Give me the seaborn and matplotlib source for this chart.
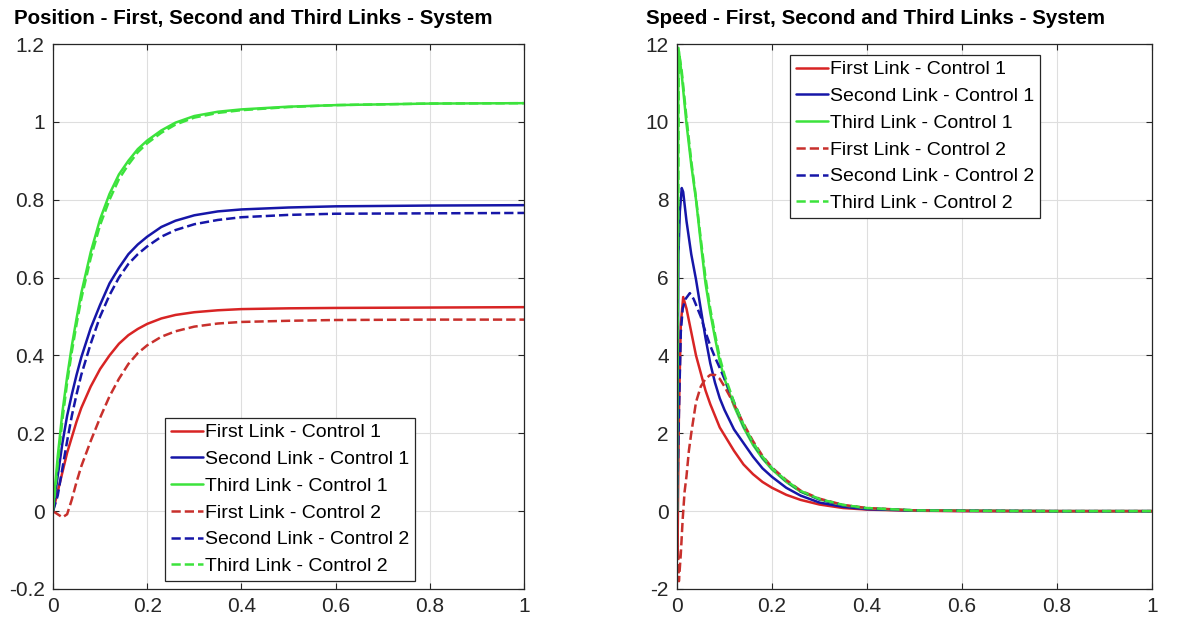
import matplotlib
matplotlib.use("Agg")
import matplotlib.pyplot as plt
from matplotlib.ticker import FixedLocator, FixedFormatter
import seaborn as sns
import pandas as pd

# ---------------------------------------------------------------- data
# Joint positions (rad) of the three links, controllers 1 and 2
t_pos = [0, 0.01, 0.02, 0.03, 0.04, 0.05, 0.06, 0.08, 0.10, 0.12, 0.14, 0.16,
         0.18, 0.20, 0.23, 0.26, 0.30, 0.35, 0.40, 0.50, 0.60, 0.80, 1.00]
pos_first_c1 = [0, 0.05, 0.10, 0.15, 0.19, 0.23, 0.265, 0.32, 0.365, 0.40, 0.43,
                0.452, 0.468, 0.481, 0.495, 0.504, 0.511, 0.516, 0.519, 0.521,
                0.522, 0.523, 0.524]
pos_second_c1 = [0, 0.09, 0.175, 0.245, 0.30, 0.35, 0.395, 0.47, 0.53, 0.585,
                 0.625, 0.66, 0.685, 0.705, 0.73, 0.746, 0.76, 0.77, 0.775,
                 0.78, 0.783, 0.785, 0.786]
pos_third_c1 = [0, 0.14, 0.255, 0.345, 0.425, 0.495, 0.56, 0.665, 0.75, 0.815,
                0.865, 0.90, 0.93, 0.952, 0.978, 0.998, 1.015, 1.026, 1.032,
                1.039, 1.043, 1.047, 1.048]
pos_first_c2 = [0, -0.008, -0.016, -0.008, 0.03, 0.075, 0.115, 0.18, 0.24,
                0.295, 0.34, 0.378, 0.406, 0.426, 0.448, 0.462, 0.474, 0.482,
                0.486, 0.489, 0.491, 0.492, 0.492]
pos_second_c2 = [0, 0.04, 0.11, 0.18, 0.245, 0.30, 0.35, 0.43, 0.50, 0.555,
                 0.60, 0.635, 0.66, 0.68, 0.705, 0.722, 0.737, 0.748, 0.755,
                 0.761, 0.764, 0.765, 0.766]
pos_third_c2 = [0, 0.12, 0.235, 0.33, 0.41, 0.48, 0.545, 0.65, 0.735, 0.80,
                0.853, 0.89, 0.922, 0.945, 0.972, 0.993, 1.011, 1.023, 1.03,
                1.038, 1.043, 1.047, 1.048]

# Joint speeds (rad/s)
t_tail = [0.05, 0.06, 0.07, 0.08, 0.09, 0.10, 0.12, 0.14, 0.16, 0.18, 0.20,
          0.23, 0.26, 0.30, 0.35, 0.40, 0.50, 0.60, 0.80, 1.00]

t_spd_first_c1 = [0, 0.001, 0.004, 0.008, 0.013, 0.02, 0.03, 0.04] + t_tail
spd_first_c1 = [0, -1.2, 2.5, 4.8, 5.5, 5.2, 4.6, 4.0,
                3.55, 3.1, 2.75, 2.45, 2.15, 1.95, 1.55, 1.2, 0.95, 0.75, 0.6,
                0.42, 0.29, 0.17, 0.08, 0.04, 0.01, 0.0, 0.0, 0.0]

t_spd_second_c1 = [0, 0.003, 0.006, 0.01, 0.013, 0.02, 0.03, 0.04] + t_tail
spd_second_c1 = [0, 6.6, 7.7, 8.3, 8.2, 7.45, 6.6, 5.95,
                 5.2, 4.45, 3.8, 3.3, 2.9, 2.6, 2.1, 1.75, 1.4, 1.1, 0.88,
                 0.6, 0.4, 0.22, 0.11, 0.05, 0.015, 0.005, 0.0, 0.0]

t_spd_third_c1 = [0, 0.003, 0.01, 0.02, 0.03, 0.04] + t_tail
spd_third_c1 = [0, 11.9, 11.2, 9.95, 8.9, 8.0,
                6.9, 5.85, 5.1, 4.45, 3.85, 3.4, 2.7, 2.15, 1.7, 1.35, 1.07,
                0.75, 0.5, 0.3, 0.15, 0.07, 0.02, 0.01, 0.0, 0.0]

t_spd_first_c2 = [0, 0.002, 0.004, 0.008, 0.012, 0.016, 0.02, 0.025, 0.03,
                  0.04] + t_tail
spd_first_c2 = [0, -1.0, -1.8, -1.1, -0.2, 0.5, 0.9, 1.55, 2.0, 2.8,
                3.2, 3.4, 3.5, 3.5, 3.4, 3.2, 2.75, 2.25, 1.8, 1.42, 1.12,
                0.8, 0.53, 0.32, 0.16, 0.08, 0.02, 0.01, 0.0, 0.0]

t_spd_second_c2 = [0, 0.004, 0.008, 0.012, 0.018, 0.027, 0.035, 0.04] + t_tail
spd_second_c2 = [0, 2.5, 4.6, 5.2, 5.45, 5.6, 5.45, 5.3,
                 5.0, 4.6, 4.25, 3.95, 3.68, 3.4, 2.8, 2.2, 1.75, 1.38, 1.1,
                 0.77, 0.51, 0.3, 0.15, 0.07, 0.02, 0.01, 0.0, 0.0]

t_spd_third_c2 = [0, 0.004, 0.01, 0.02, 0.03, 0.04] + t_tail
spd_third_c2 = [0, 11.8, 11.3, 10.1, 9.0, 8.05,
                7.0, 6.0, 5.2, 4.55, 3.95, 3.5, 2.8, 2.22, 1.76, 1.4, 1.1,
                0.78, 0.52, 0.31, 0.16, 0.08, 0.02, 0.01, 0.0, 0.0]

series_names = ["First Link - Control 1", "Second Link - Control 1",
                "Third Link - Control 1", "First Link - Control 2",
                "Second Link - Control 2", "Third Link - Control 2"]

pos_x_ticks = [0, 0.2, 0.4, 0.6, 0.8, 1]
pos_x_labels = ["0", "0.2", "0.4", "0.6", "0.8", "1"]
pos_y_ticks = [-0.2, 0, 0.2, 0.4, 0.6, 0.8, 1.0, 1.2]
pos_y_labels = ["-0.2", "0", "0.2", "0.4", "0.6", "0.8", "1", "1.2"]
spd_y_ticks = [-2, 0, 2, 4, 6, 8, 10, 12]
spd_y_labels = ["-2", "0", "2", "4", "6", "8", "10", "12"]

title_pos = "Position - First, Second and Third Links - System"
title_spd = "Speed - First, Second and Third Links - System"

# ---------------------------------------------------------------- style
sns.set_style("ticks")
plt.rcParams["font.family"] = ["Liberation Sans", "DejaVu Sans"]

RED, BLUE, GREEN = "#D82424", "#1616A8", "#3CE33C"
RED_D = "#C8302C"
colors = [RED, BLUE, GREEN, RED_D, BLUE, GREEN]
styles = ["-", "-", "-", "--", "--", "--"]
DASH = (3.2, 2.4)
LW = 1.8
TEXT = "#262626"

fig = plt.figure(figsize=(11.95, 6.24), dpi=100)
W, H = 1195, 624
ax_pos = fig.add_axes([53 / W, 1 - 589 / H, 471 / W, 545 / H])
ax_spd = fig.add_axes([677 / W, 1 - 589 / H, 475 / W, 545 / H])


def draw(ax, xs_list, ys_list):
    for xs, ys, name, col, ls in zip(xs_list, ys_list, series_names, colors, styles):
        df = pd.DataFrame({"t": xs, "v": ys})
        kw = dict(dashes=DASH) if ls == "--" else {}
        sns.lineplot(data=df, x="t", y="v", ax=ax, color=col, linestyle=ls,
                     linewidth=LW, label=name, estimator=None, sort=False, **kw)


draw(ax_pos, [t_pos] * 6,
     [pos_first_c1, pos_second_c1, pos_third_c1,
      pos_first_c2, pos_second_c2, pos_third_c2])
draw(ax_spd,
     [t_spd_first_c1, t_spd_second_c1, t_spd_third_c1,
      t_spd_first_c2, t_spd_second_c2, t_spd_third_c2],
     [spd_first_c1, spd_second_c1, spd_third_c1,
      spd_first_c2, spd_second_c2, spd_third_c2])


def style_axes(ax, yticks, ylabels, ylim):
    ax.set_xlim(0, 1)
    ax.set_ylim(*ylim)
    ax.xaxis.set_major_locator(FixedLocator(pos_x_ticks))
    ax.xaxis.set_major_formatter(FixedFormatter(pos_x_labels))
    ax.yaxis.set_major_locator(FixedLocator(yticks))
    ax.yaxis.set_major_formatter(FixedFormatter(ylabels))
    ax.set_xlabel("")
    ax.set_ylabel("")
    ax.grid(True, color="#DEDEDE", linewidth=0.8)
    ax.set_axisbelow(True)
    for s in ax.spines.values():
        s.set_visible(True)
        s.set_color(TEXT)
        s.set_linewidth(0.9)
    ax.tick_params(direction="in", length=4, width=0.8, colors=TEXT,
                   labelsize=15, pad=6, top=True, right=True,
                   labeltop=False, labelright=False)


style_axes(ax_pos, pos_y_ticks, pos_y_labels, (-0.2, 1.2))
style_axes(ax_spd, spd_y_ticks, spd_y_labels, (-2, 12))

fig.text(253 / W, 1 - 18 / H, title_pos, ha="center", va="center",
         fontsize=14.8, fontweight="bold", color="black")
fig.text(876 / W, 1 - 18 / H, title_spd, ha="center", va="center",
         fontsize=14.8, fontweight="bold", color="black")

leg_kw = dict(loc="upper left", fontsize=14.0, handlelength=1.65,
              handletextpad=0.1, labelspacing=0.47, borderpad=0.3,
              borderaxespad=0, fancybox=False, framealpha=1,
              edgecolor=TEXT, bbox_transform=fig.transFigure)
for ax, anchor in ((ax_pos, (165 / W, 1 - 418 / H)), (ax_spd, (790 / W, 1 - 55 / H))):
    handles, labels = ax.get_legend_handles_labels()
    leg = ax.legend(handles, labels, bbox_to_anchor=anchor, **leg_kw)
    leg.get_frame().set_linewidth(0.9)
    for txt in leg.get_texts():
        txt.set_color("black")

fig.savefig("out.png", dpi=100, facecolor="white")
